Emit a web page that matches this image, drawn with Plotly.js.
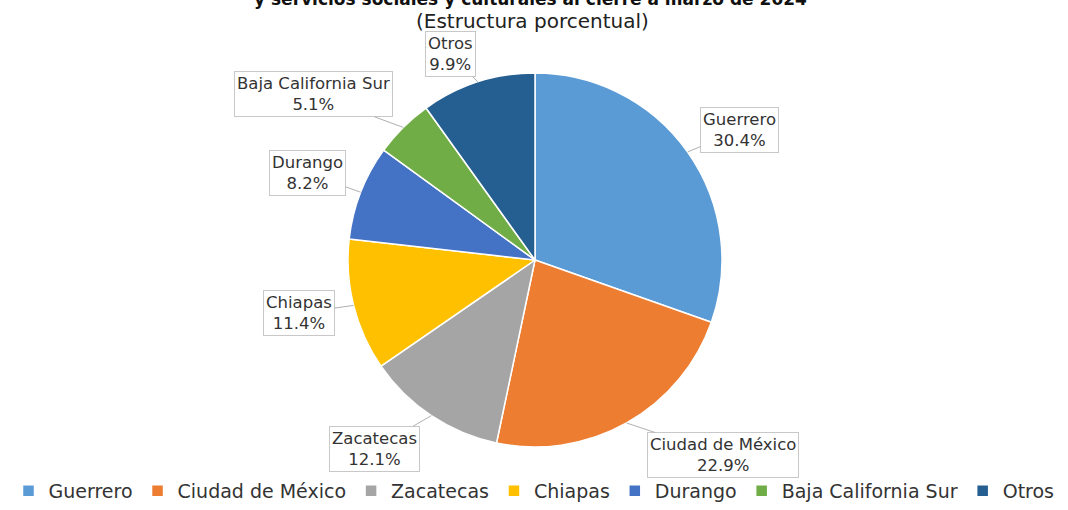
<!DOCTYPE html>
<html>
<head>
<meta charset="utf-8">
<script src="https://cdn.plot.ly/plotly-3.0.1.min.js"></script>
<style>html,body{margin:0;padding:0;background:#fff;}#chart{width:1068px;height:510px;}</style>
</head>
<body>
<div id="chart"></div>
<script>
// Data
const categories = ["Guerrero", "Ciudad de México", "Zacatecas", "Chiapas", "Durango", "Baja California Sur", "Otros"];
const shares = [30.4, 22.9, 12.1, 11.4, 8.2, 5.1, 9.9];
const titleText = "y servicios sociales y culturales al cierre a marzo de 2024";
const subtitleText = "(Estructura porcentual)";

// Styles / layout
const colors = ["#5B9BD5", "#ED7D31", "#A5A5A5", "#FFC000", "#4472C4", "#70AD47", "#255E91"];
const W = 1068, H = 510;
const cx = 535, cy = 260, R = 187;
// label box offsets (pixels) from slice edge
const labelOffsets = [[52, -22], [96, 32], [-57, 33], [-55, 8], [-53, -19], [-90, -33], [-27, -28]];
const FONT = "DejaVu Sans, sans-serif";

const total = shares.reduce((a, b) => a + b, 0);
let cum = 0;
const annotations = [];
shares.forEach((v, i) => {
  const mid = (cum + v / 2) / total * 2 * Math.PI;
  cum += v;
  const px = cx + R * Math.sin(mid);
  const py = cy - R * Math.cos(mid);
  annotations.push({
    x: px / W, y: 1 - py / H, xref: "paper", yref: "paper",
    text: categories[i] + "<br>" + v.toFixed(1) + "%",
    showarrow: true, arrowhead: 0, arrowwidth: 1, arrowcolor: "#b0b0b0",
    ax: labelOffsets[i][0], ay: labelOffsets[i][1],
    bordercolor: "#c8c8c8", borderwidth: 1, borderpad: 2, bgcolor: "#ffffff",
    font: {family: FONT, size: 16.5, color: "#333333"}, align: "center"
  });
});
annotations.push({
  x: 0.497, y: 1, xref: "paper", yref: "paper", yanchor: "middle", yshift: 1,
  text: "<b>" + titleText + "</b>", showarrow: false,
  font: {family: FONT, size: 17, color: "#111111"}
});
annotations.push({
  x: 0.4985, y: 1 - 21 / H, xref: "paper", yref: "paper", yanchor: "middle",
  text: subtitleText, showarrow: false,
  font: {family: FONT, size: 20, color: "#222222"}
});

const trace = {
  type: "pie",
  labels: categories,
  values: shares,
  sort: false,
  direction: "clockwise",
  rotation: 0,
  textinfo: "none",
  hoverinfo: "label+percent",
  marker: {colors: colors, line: {color: "#ffffff", width: 1.5}},
  domain: {x: [(cx - R) / W, (cx + R) / W], y: [1 - (cy + R) / H, 1 - (cy - R) / H]}
};

const layout = {
  width: W, height: H,
  margin: {l: 0, r: 0, t: 0, b: 0},
  paper_bgcolor: "#ffffff",
  showlegend: true,
  legend: {
    orientation: "h", x: 0.5, xanchor: "center", y: 0, yanchor: "bottom",
    font: {family: FONT, size: 19, color: "#333333"}, traceorder: "normal",
    itemwidth: 30
  },
  annotations: annotations
};

Plotly.newPlot("chart", [trace], layout, {displayModeBar: false, staticPlot: true});
</script>
</body>
</html>
